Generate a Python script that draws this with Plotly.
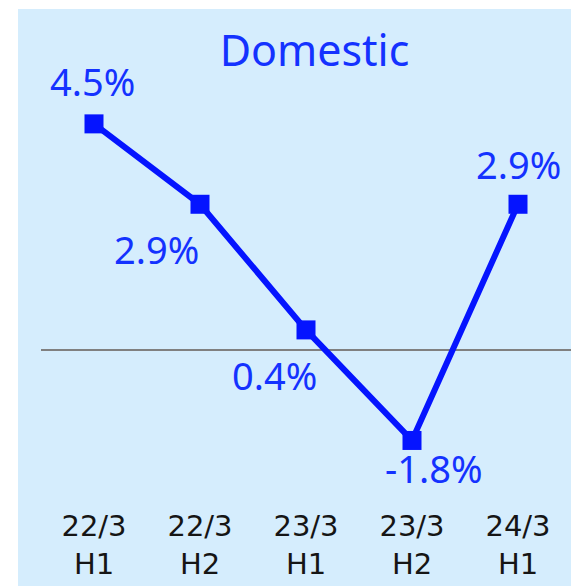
import plotly.graph_objects as go

# Half-year periods and domestic growth rates (%)
periods = ["22/3<br>H1", "22/3<br>H2", "23/3<br>H1", "23/3<br>H2", "24/3<br>H1"]
growth = [4.5, 2.9, 0.4, -1.8, 2.9]
value_labels = ["4.5%", "2.9%", "0.4%", "-1.8%", "2.9%"]

# Label placement around each point (pixels)
label_dx = [-1.5, -43.5, -32, 21, 0]
label_dy = [42.5, -44.7, -44.6, -28, 39.8]

BLUE = "#0514ff"
TEXT_BLUE = "#1432ff"
PANEL = "#d5edfd"
FONT = "Noto Sans"

W, H = 571, 586
ML, MR, MT, MB = 41, 0, 60, 86
plot_w = W - ML - MR
plot_h = H - MT - MB

fig = go.Figure()
fig.add_trace(go.Scatter(
    x=list(range(len(periods))),
    y=growth,
    mode="lines+markers",
    line=dict(color=BLUE, width=6),
    marker=dict(symbol="square", size=19, color=BLUE),
    hoverinfo="skip",
    showlegend=False,
))

for i, (v, t) in enumerate(zip(growth, value_labels)):
    fig.add_annotation(
        x=i, y=v, text=t, showarrow=False,
        xshift=label_dx[i], yshift=label_dy[i],
        font=dict(family=FONT, size=38, color=TEXT_BLUE),
    )

# light-blue panel behind everything
fig.add_shape(
    type="rect", xref="paper", yref="paper", layer="below",
    x0=(18 - ML) / plot_w, x1=1.0,
    y0=(H - MB - H) / plot_h, y1=(H - MB - 9) / plot_h,
    fillcolor=PANEL, line=dict(width=0),
)

fig.update_layout(
    width=W, height=H,
    margin=dict(l=ML, r=MR, t=MT, b=MB, pad=0),
    paper_bgcolor="white",
    plot_bgcolor=PANEL,
    title=dict(
        text="Domestic",
        x=(314.5) / W, xanchor="center",
        y=1 - 51 / H, yanchor="middle",
        font=dict(family=FONT, size=43, color=TEXT_BLUE),
    ),
    xaxis=dict(
        range=[-0.5, 4.5],
        tickmode="array",
        tickvals=list(range(len(periods))),
        ticktext=periods,
        tickfont=dict(family="DejaVu Sans", size=29, color="#151515"),
        showgrid=False, zeroline=False, showline=False, ticks="",
        ticklabelstandoff=6,
    ),
    yaxis=dict(
        range=[-2.985, 5.771],
        showgrid=False, showticklabels=False, ticks="",
        zeroline=True, zerolinecolor="#808080", zerolinewidth=2,
        showline=False,
    ),
)

fig.write_html("out.html")
